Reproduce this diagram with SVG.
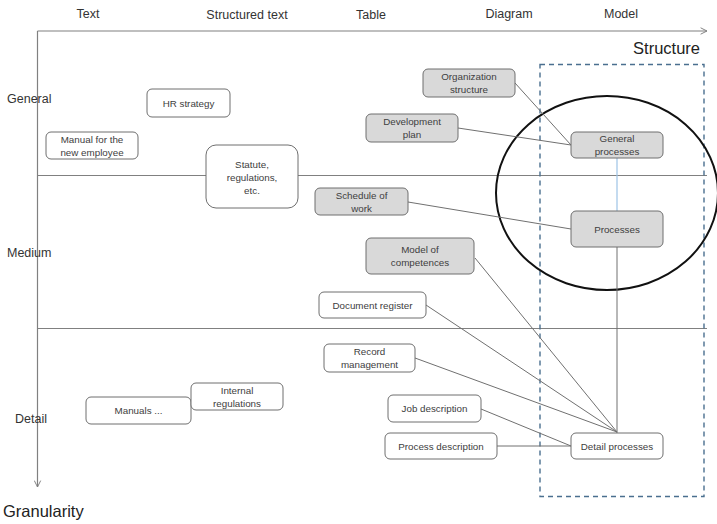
<svg xmlns="http://www.w3.org/2000/svg" width="717" height="524" viewBox="0 0 717 524">
<style>
text{font-family:"Liberation Sans",Arial,sans-serif}
.hdr{font-size:12.5px;fill:#333;text-anchor:middle}
.row{font-size:12.5px;fill:#333}
.big{font-size:16.5px;fill:#222}
.n rect{stroke:#6f6f6f;stroke-width:1}
.g rect{fill:#d9d9d9}
.w rect{fill:#fff}
.n text{font-size:9.8px;fill:#404040;text-anchor:middle}
.ax{stroke:#808080;stroke-width:1.2;fill:none}
.c{stroke:#707070;stroke-width:1;fill:none}
</style>
<defs>
<marker id="ah" viewBox="0 0 10 10" refX="9" refY="5" markerWidth="8" markerHeight="8" orient="auto" markerUnits="userSpaceOnUse"><path d="M1,1 L9,5 L1,9" fill="none" stroke="#808080" stroke-width="1.2"/></marker>
</defs>
<rect width="717" height="524" fill="#fff"/>
<g id="axes">
<line class="ax" x1="37.5" y1="31" x2="707" y2="31" marker-end="url(#ah)"/>
<line class="ax" x1="37.5" y1="31" x2="37.5" y2="487" marker-end="url(#ah)"/>
<line class="ax" x1="37.5" y1="175.5" x2="707" y2="175.5"/>
<line class="ax" x1="37.5" y1="328.5" x2="707" y2="328.5"/>
</g>
<g id="labels">
<text class="hdr" x="88" y="18">Text</text>
<text class="hdr" x="247" y="19">Structured text</text>
<text class="hdr" x="371" y="19">Table</text>
<text class="hdr" x="509" y="18">Diagram</text>
<text class="hdr" x="621" y="18">Model</text>
<text class="big" x="700" y="54" text-anchor="end">Structure</text>
<text class="big" x="3" y="517">Granularity</text>
<text class="row" x="7" y="103">General</text>
<text class="row" x="7" y="257">Medium</text>
<text class="row" x="15" y="423">Detail</text>
</g>
<rect id="model-area" x="540" y="64.5" width="164" height="432" fill="none" stroke="#4a6f8f" stroke-width="1.4" stroke-dasharray="5,4"/>
<ellipse id="focus" cx="607" cy="193" rx="111" ry="97" fill="none" stroke="#111" stroke-width="2"/>
<g id="connectors">
<line class="c" x1="515" y1="83" x2="571" y2="145"/>
<line class="c" x1="458" y1="128" x2="571" y2="145"/>
<line x1="617" y1="158" x2="617" y2="211" stroke="#9dc3e6" stroke-width="1.2"/>
<line class="c" x1="408" y1="202" x2="571" y2="229"/>
<line class="c" x1="617" y1="247" x2="617" y2="433"/>
<line class="c" x1="475" y1="258" x2="617" y2="432"/>
<line class="c" x1="426" y1="305" x2="617" y2="432"/>
<line class="c" x1="415" y1="358" x2="617" y2="432"/>
<line class="c" x1="481" y1="409" x2="571" y2="446"/>
<line class="c" x1="497" y1="446" x2="571" y2="446"/>
</g>
<g id="org-structure" class="n g"><rect x="423" y="69" width="92" height="28" rx="5"/><text x="469" y="80">Organization</text><text x="469" y="93">structure</text></g>
<g id="development-plan" class="n g"><rect x="366" y="114" width="92" height="28" rx="5"/><text x="412" y="124.5">Development</text><text x="412" y="137.5">plan</text></g>
<g id="general-processes" class="n g"><rect x="571" y="132" width="92" height="26" rx="5"/><text x="617" y="142">General</text><text x="617" y="155">processes</text></g>
<g id="schedule-of-work" class="n g"><rect x="315" y="188" width="93" height="27" rx="5"/><text x="361.5" y="199">Schedule of</text><text x="361.5" y="212">work</text></g>
<g id="processes" class="n g"><rect x="571" y="211" width="92" height="36" rx="5"/><text x="617" y="232.5">Processes</text></g>
<g id="model-of-competences" class="n g"><rect x="366" y="238" width="108" height="36" rx="5"/><text x="420" y="253">Model of</text><text x="420" y="266">competences</text></g>
<g id="document-register" class="n w"><rect x="319" y="292" width="107" height="26" rx="5"/><text x="372.5" y="308.5">Document register</text></g>
<g id="record-management" class="n w"><rect x="324" y="344" width="91" height="28" rx="5"/><text x="369.5" y="355">Record</text><text x="369.5" y="368">management</text></g>
<g id="job-description" class="n w"><rect x="388" y="395" width="93" height="27" rx="5"/><text x="434.5" y="412">Job description</text></g>
<g id="process-description" class="n w"><rect x="385" y="433" width="112" height="26" rx="5"/><text x="441" y="449.5">Process description</text></g>
<g id="detail-processes" class="n w"><rect x="571" y="433" width="92" height="26" rx="5"/><text x="617" y="449.5">Detail processes</text></g>
<g id="hr-strategy" class="n w"><rect x="147" y="89" width="83" height="28" rx="5"/><text x="188.5" y="106.5">HR strategy</text></g>
<g id="manual-new-employee" class="n w"><rect x="46" y="132" width="92" height="27" rx="5"/><text x="92" y="142.5">Manual for the</text><text x="92" y="155.5">new employee</text></g>
<g id="statute" class="n w"><rect x="206" y="145" width="92" height="63" rx="10"/><text x="252" y="168">Statute,</text><text x="252" y="181">regulations,</text><text x="252" y="194">etc.</text></g>
<g id="manuals" class="n w"><rect x="86" y="397" width="105" height="27" rx="5"/><text x="138.5" y="414">Manuals ...</text></g>
<g id="internal-regulations" class="n w"><rect x="191" y="383" width="92" height="27" rx="5"/><text x="237" y="394">Internal</text><text x="237" y="407">regulations</text></g>
</svg>
